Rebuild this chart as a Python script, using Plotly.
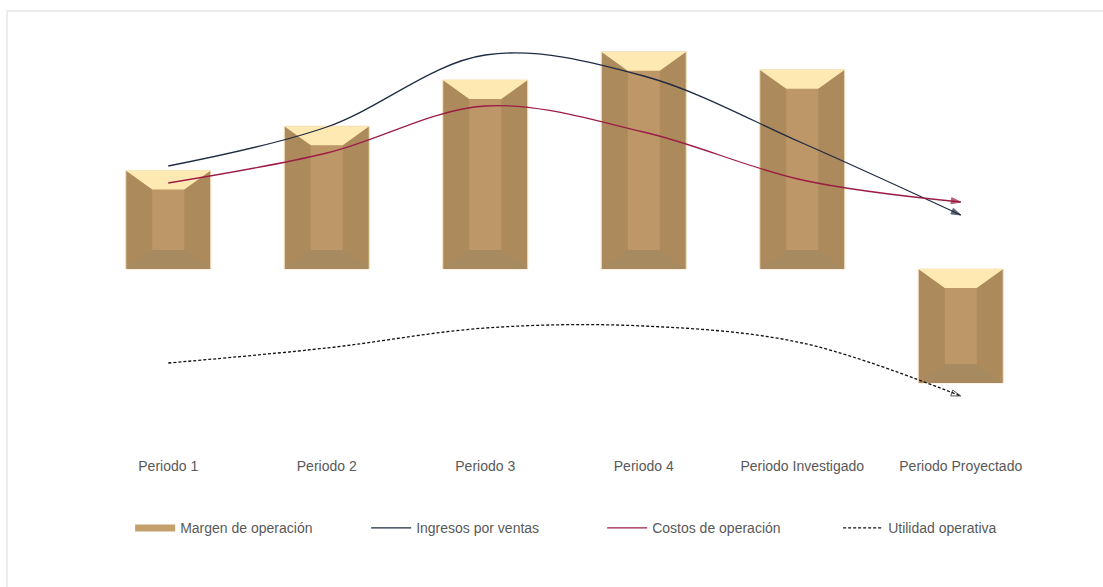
import plotly.graph_objects as go

# ---- data ----
categories = ["Periodo 1", "Periodo 2", "Periodo 3", "Periodo 4",
              "Periodo Investigado", "Periodo Proyectado"]
margen = [8.2, 11.9, 15.75, 18.1, 16.6, -9.5]          # % (bars)
ingresos = [214, 253, 325, 304, 237, 165]               # lines
costos = [197, 227, 274, 248, 200, 178]
utilidad = [17, 32, 52, 54, 37, -16]

# ---- styling constants ----
W, H = 1103, 587
ML, MR, MT, MB = 89, 63, 20, 131
plot_w = W - ML - MR
plot_h = H - MT - MB
y1_range = [-15.583, 20.75]
y2_range = [-76, 360]
px_x = 6.0 / plot_w                                   # x data units per px
px_y = (y1_range[1] - y1_range[0]) / plot_h           # y data units per px
HW = 42.5 * px_x      # outer half width
IW = 16 * px_x        # inner half width
D = 19 * px_y         # bevel depth

C_SIDE = "#ad8a5c"
C_CENTER = "#bd9767"
C_TOP = "#fee9b3"
C_BOTTOM = "#a88a60"
FONT = "Liberation Sans, Arial, sans-serif"
GREY = "#595959"

xs = list(range(len(categories)))

side_x, side_y, cen_x, cen_y = [], [], [], []
top_x, top_y, bot_x, bot_y = [], [], [], []
for c, v in zip(xs, margen):
    t, b = max(0, v), min(0, v)
    side_x += [c - HW, c + HW, c + HW, c - HW, c - HW, None]
    side_y += [b, b, t, t, b, None]
    cen_x += [c - IW, c + IW, c + IW, c - IW, c - IW, None]
    cen_y += [b + D, b + D, t - D, t - D, b + D, None]
    top_x += [c - HW, c + HW, c + IW, c - IW, c - HW, None]
    top_y += [t, t, t - D, t - D, t, None]
    bot_x += [c - HW, c + HW, c + IW, c - IW, c - HW, None]
    bot_y += [b, b, b + D, b + D, b, None]

fig = go.Figure()


def face(x, y, color, outline=None):
    fig.add_trace(go.Scatter(
        x=x, y=y, mode="lines", fill="toself", fillcolor=color,
        line=dict(color=outline or color, width=1 if outline else 0),
        hoverinfo="skip", showlegend=False, yaxis="y"))


face(side_x, side_y, C_SIDE, outline="#f3e3c3")
face(cen_x, cen_y, C_CENTER)
face(top_x, top_y, C_TOP)
face(bot_x, bot_y, C_BOTTOM)

n = len(xs)
arrow_sizes = [0] * (n - 1) + [10]


def series(vals, color, dash, symbol):
    fig.add_trace(go.Scatter(
        x=xs, y=vals, mode="lines+markers", yaxis="y2",
        line=dict(color=color, width=1.3, shape="spline", smoothing=1, dash=dash),
        marker=dict(size=arrow_sizes, symbol=symbol, angleref="previous",
                    color=color, line=dict(color=color, width=1)),
        showlegend=False, hoverinfo="skip"))


series(ingresos, "#1f2b44", "solid", "arrow")
series(costos, "#9b1c45", "solid", "arrow")
series(utilidad, "#111111", "3px,2px", "arrow-open")

# legend entries
legend_items = [
    ("Margen de operación", dict(color="#c4a16c", width=7)),
    ("Ingresos por ventas", dict(color="#1f2b44", width=1.3)),
    ("Costos de operación", dict(color="#9b1c45", width=1.3)),
    ("Utilidad operativa", dict(color="#111111", width=1.3, dash="3px,2px")),
]
for name, ln in legend_items:
    fig.add_trace(go.Scatter(x=[None], y=[None], mode="lines", name=name,
                             line=ln, yaxis="y2"))

fig.update_layout(
    width=W, height=H,
    margin=dict(l=ML, r=MR, t=MT, b=MB),
    paper_bgcolor="white", plot_bgcolor="white",
    font=dict(family=FONT, size=14, color=GREY),
    xaxis=dict(range=[-0.5, 5.5], tickmode="array", tickvals=xs,
               ticktext=categories, showgrid=False, zeroline=False,
               showline=False, ticks="", tickfont=dict(size=14, color=GREY)),
    yaxis=dict(range=y1_range, visible=False, fixedrange=True),
    yaxis2=dict(range=y2_range, visible=False, overlaying="y"),
    legend=dict(orientation="h", xref="container", yref="container",
                x=0.118, y=0.1, xanchor="left", yanchor="middle",
                entrywidth=181, entrywidthmode="pixels",
                font=dict(size=14, color=GREY), itemwidth=40),
    showlegend=True,
    shapes=[dict(type="rect", xref="paper", yref="paper",
                 x0=(7 - ML) / plot_w, x1=1.2,
                 y0=-0.6, y1=1 + (MT - 11) / plot_h,
                 line=dict(color="#e6e6e6", width=1.5), layer="below")],
)

fig.write_html(
    "out.html",
    config={"displayModeBar": False},
    post_script="document.body.style.margin='0';document.body.style.overflow='hidden';",
)
